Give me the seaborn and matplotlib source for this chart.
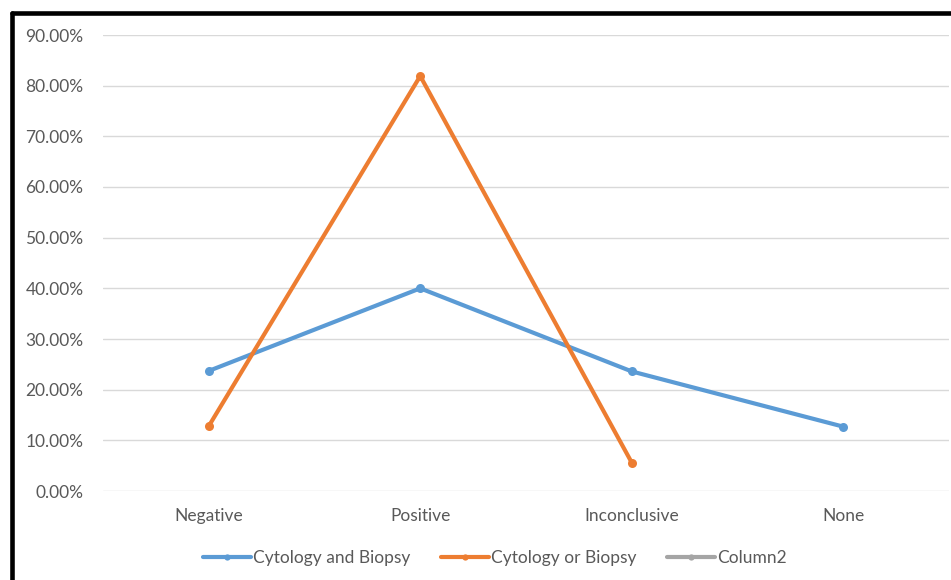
import numpy as np
import pandas as pd
import matplotlib.pyplot as plt
import seaborn as sns
from matplotlib.lines import Line2D
from matplotlib.ticker import PercentFormatter

categories = ["Negative", "Positive", "Inconclusive", "None"]
cyto_and_biopsy = [0.237, 0.400, 0.236, 0.127]
cyto_or_biopsy = [0.128, 0.819, 0.056, np.nan]
column2 = [np.nan, np.nan, np.nan, np.nan]

series_names = ["Cytology and Biopsy", "Cytology or Biopsy", "Column2"]
colors = ["#5B9BD5", "#ED7D31", "#A5A5A5"]

df = pd.DataFrame({
    "category": categories * 3,
    "pos": list(range(len(categories))) * 3,
    "series": np.repeat(series_names, len(categories)),
    "value": cyto_and_biopsy + cyto_or_biopsy + column2,
})

sns.set_theme(style="white")
plt.rcParams["font.family"] = ["Lato", "DejaVu Sans"]

fig = plt.figure(figsize=(9.51, 5.80), dpi=100)
ax = fig.add_axes([103 / 951, 89 / 580, 846 / 951, 456 / 580])

for name, color in zip(series_names, colors):
    sub = df[df["series"] == name].dropna()
    if len(sub):
        sns.lineplot(data=sub, x="pos", y="value", ax=ax, color=color,
                     linewidth=3.0, marker="o", markersize=6.5,
                     markeredgewidth=0, legend=False)

ax.set_xlim(-0.5, len(categories) - 0.5)
ax.set_ylim(0, 0.9)
ax.set_yticks(np.arange(0, 0.91, 0.1))
ax.yaxis.set_major_formatter(PercentFormatter(1.0, decimals=2))
ax.set_xticks(range(len(categories)))
ax.set_xticklabels(categories)
ax.set_xlabel("")
ax.set_ylabel("")
ax.grid(axis="y", color="#D9D9D9", linewidth=1.0)
ax.set_axisbelow(True)
for s in ax.spines.values():
    s.set_visible(False)
ax.tick_params(axis="y", length=0, pad=14, labelsize=12.5, labelcolor="#595959")
ax.tick_params(axis="x", length=0, pad=12, labelsize=12.5, labelcolor="#595959")

handles = [Line2D([0], [0], color=c, linewidth=3.0, marker="o", markersize=4.5,
                  markeredgewidth=0) for c in colors]
fig.legend(handles, series_names, loc="center", bbox_to_anchor=(495 / 951, 1 - 558 / 580),
           ncol=3, frameon=False, fontsize=12.5, labelcolor="#595959",
           handlelength=2.75, handletextpad=0.15, columnspacing=1.75)

# black frame on top and left edge of the screenshot
fig.add_artist(Line2D([12 / 951, 1], [1 - 12.5 / 580, 1 - 12.5 / 580],
                      transform=fig.transFigure, color="black", linewidth=3.3))
fig.add_artist(Line2D([12 / 951, 12 / 951], [0, 1 - 12.5 / 580],
                      transform=fig.transFigure, color="black", linewidth=3.3))

fig.savefig("out.png", dpi=100)
